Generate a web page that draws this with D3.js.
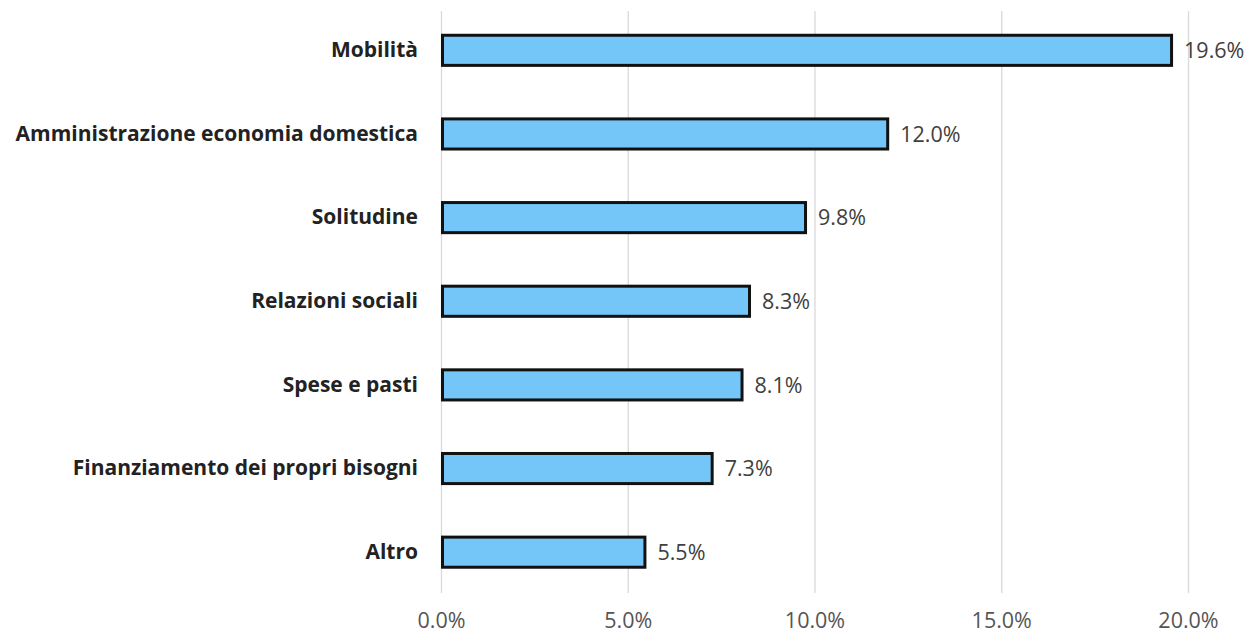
<!DOCTYPE html>
<html><head><meta charset="utf-8">
<script src="https://cdn.jsdelivr.net/npm/d3@7"></script>
<style>body{margin:0;background:#fff;}svg{display:block;}</style>
</head><body>
<svg id="c" width="1248" height="633"></svg>
<script>
const categories = ["Mobilità","Amministrazione economia domestica","Solitudine","Relazioni sociali","Spese e pasti","Finanziamento dei propri bisogni","Altro"];
const values = [19.6, 12.0, 9.8, 8.3, 8.1, 7.3, 5.5];
const tickValues = [0, 5, 10, 15, 20];

const svg = d3.select("#c");
const font = "'Open Sans', 'Noto Sans', sans-serif";
const x = d3.scaleLinear().domain([0, 20]).range([441, 1188]);
const y = d3.scaleBand().domain(categories).range([8.5, 594]).paddingInner(0.64).paddingOuter(0.32);

// grid
const gx = svg.append("g").attr("transform", "translate(0,593)")
  .call(d3.axisBottom(x).tickValues(tickValues).tickSize(-582).tickFormat(d => d.toFixed(1) + "%"));
gx.select(".domain").remove();
gx.selectAll(".tick line").attr("stroke", "#d9d9d9").attr("stroke-width", 1.3);
gx.selectAll(".tick text").attr("y", 20).attr("dy", "0.72em").attr("fill", "#555")
  .style("font-family", font).style("font-size", "21.5px");

// bars
svg.append("g").selectAll("rect").data(values).join("rect")
  .attr("x", x(0) + 1.5)
  .attr("y", (d, i) => y(categories[i]))
  .attr("width", d => x(d) - x(0) - 3)
  .attr("height", y.bandwidth())
  .attr("fill", "#73c6f7").attr("stroke", "#111").attr("stroke-width", 3);

// value labels
svg.append("g").selectAll("text").data(values).join("text")
  .attr("x", d => x(d) + 11)
  .attr("y", (d, i) => y(categories[i]) + y.bandwidth() / 2)
  .attr("dy", "0.36em")
  .attr("fill", "#404040")
  .style("font-family", font).style("font-size", "21.5px")
  .text(d => d.toFixed(1) + "%");

// category labels
const ya = svg.append("g").attr("transform", "translate(441,0)")
  .call(d3.axisLeft(y).tickSize(0).tickPadding(23));
ya.select(".domain").remove();
ya.selectAll(".tick text").attr("fill", "#222").style("font-family", font)
  .style("font-size", "21px").style("font-weight", "bold");
</script>
</body></html>
